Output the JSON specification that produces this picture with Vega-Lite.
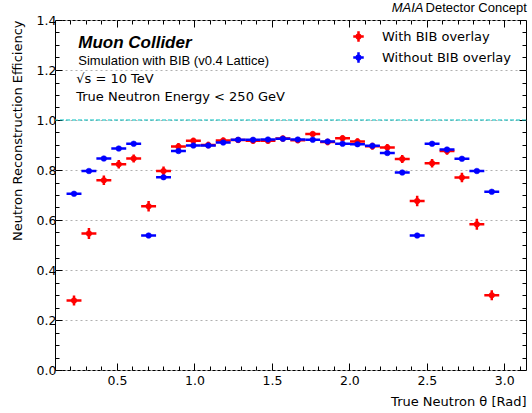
{
  "$schema": "https://vega.github.io/schema/vega-lite/v6.json",
  "width": 471,
  "height": 350,
  "autosize": {"type": "none"},
  "padding": {"left": 55, "top": 20, "right": 6, "bottom": 43},
  "background": "white",
  "config": {
    "view": {"stroke": "black", "strokeWidth": 1},
    "font": "DejaVu Sans",
    "axis": {"labelFont": "DejaVu Sans", "titleFont": "DejaVu Sans", "labelColor": "black", "titleColor": "black", "tickColor": "black", "domain": false}
  },
  "datasets": {
    "eff": [
      {"s":"With BIB overlay","t":0.2227,"tlo":0.1745,"thi":0.2708,"e":0.278,"elo":0.258,"ehi":0.298},
      {"s":"With BIB overlay","t":0.3190,"tlo":0.2708,"thi":0.3671,"e":0.546,"elo":0.524,"ehi":0.568},
      {"s":"With BIB overlay","t":0.4153,"tlo":0.3671,"thi":0.4634,"e":0.759,"elo":0.740,"ehi":0.778},
      {"s":"With BIB overlay","t":0.5116,"tlo":0.4634,"thi":0.5597,"e":0.823,"elo":0.806,"ehi":0.840},
      {"s":"With BIB overlay","t":0.6079,"tlo":0.5597,"thi":0.6560,"e":0.846,"elo":0.830,"ehi":0.862},
      {"s":"With BIB overlay","t":0.7042,"tlo":0.6560,"thi":0.7523,"e":0.655,"elo":0.634,"ehi":0.676},
      {"s":"With BIB overlay","t":0.8005,"tlo":0.7523,"thi":0.8486,"e":0.796,"elo":0.778,"ehi":0.814},
      {"s":"With BIB overlay","t":0.8968,"tlo":0.8486,"thi":0.9449,"e":0.894,"elo":0.880,"ehi":0.908},
      {"s":"With BIB overlay","t":0.9931,"tlo":0.9449,"thi":1.0412,"e":0.917,"elo":0.905,"ehi":0.929},
      {"s":"With BIB overlay","t":1.0894,"tlo":1.0412,"thi":1.1375,"e":0.900,"elo":0.887,"ehi":0.913},
      {"s":"With BIB overlay","t":1.1857,"tlo":1.1375,"thi":1.2338,"e":0.918,"elo":0.906,"ehi":0.930},
      {"s":"With BIB overlay","t":1.2820,"tlo":1.2338,"thi":1.3301,"e":0.920,"elo":0.908,"ehi":0.932},
      {"s":"With BIB overlay","t":1.3783,"tlo":1.3301,"thi":1.4264,"e":0.917,"elo":0.905,"ehi":0.929},
      {"s":"With BIB overlay","t":1.4746,"tlo":1.4264,"thi":1.5227,"e":0.917,"elo":0.905,"ehi":0.929},
      {"s":"With BIB overlay","t":1.5709,"tlo":1.5227,"thi":1.6190,"e":0.926,"elo":0.914,"ehi":0.938},
      {"s":"With BIB overlay","t":1.6672,"tlo":1.6190,"thi":1.7153,"e":0.919,"elo":0.907,"ehi":0.931},
      {"s":"With BIB overlay","t":1.7635,"tlo":1.7153,"thi":1.8116,"e":0.944,"elo":0.934,"ehi":0.954},
      {"s":"With BIB overlay","t":1.8598,"tlo":1.8116,"thi":1.9079,"e":0.912,"elo":0.899,"ehi":0.925},
      {"s":"With BIB overlay","t":1.9561,"tlo":1.9079,"thi":2.0042,"e":0.927,"elo":0.915,"ehi":0.939},
      {"s":"With BIB overlay","t":2.0524,"tlo":2.0042,"thi":2.1005,"e":0.914,"elo":0.901,"ehi":0.927},
      {"s":"With BIB overlay","t":2.1487,"tlo":2.1005,"thi":2.1968,"e":0.895,"elo":0.881,"ehi":0.909},
      {"s":"With BIB overlay","t":2.2450,"tlo":2.1968,"thi":2.2931,"e":0.890,"elo":0.876,"ehi":0.904},
      {"s":"With BIB overlay","t":2.3413,"tlo":2.2931,"thi":2.3894,"e":0.844,"elo":0.828,"ehi":0.860},
      {"s":"With BIB overlay","t":2.4376,"tlo":2.3894,"thi":2.4857,"e":0.676,"elo":0.655,"ehi":0.697},
      {"s":"With BIB overlay","t":2.5339,"tlo":2.4857,"thi":2.5820,"e":0.827,"elo":0.810,"ehi":0.844},
      {"s":"With BIB overlay","t":2.6302,"tlo":2.5820,"thi":2.6783,"e":0.876,"elo":0.861,"ehi":0.891},
      {"s":"With BIB overlay","t":2.7265,"tlo":2.6783,"thi":2.7746,"e":0.770,"elo":0.751,"ehi":0.789},
      {"s":"With BIB overlay","t":2.8228,"tlo":2.7746,"thi":2.8709,"e":0.583,"elo":0.561,"ehi":0.605},
      {"s":"With BIB overlay","t":2.9191,"tlo":2.8709,"thi":2.9672,"e":0.299,"elo":0.279,"ehi":0.319},
      {"s":"Without BIB overlay","t":0.2227,"tlo":0.1745,"thi":0.2708,"e":0.705,"elo":0.698,"ehi":0.712},
      {"s":"Without BIB overlay","t":0.3190,"tlo":0.2708,"thi":0.3671,"e":0.796,"elo":0.790,"ehi":0.802},
      {"s":"Without BIB overlay","t":0.4153,"tlo":0.3671,"thi":0.4634,"e":0.846,"elo":0.840,"ehi":0.852},
      {"s":"Without BIB overlay","t":0.5116,"tlo":0.4634,"thi":0.5597,"e":0.886,"elo":0.881,"ehi":0.891},
      {"s":"Without BIB overlay","t":0.6079,"tlo":0.5597,"thi":0.6560,"e":0.905,"elo":0.900,"ehi":0.910},
      {"s":"Without BIB overlay","t":0.7042,"tlo":0.6560,"thi":0.7523,"e":0.538,"elo":0.530,"ehi":0.546},
      {"s":"Without BIB overlay","t":0.8005,"tlo":0.7523,"thi":0.8486,"e":0.771,"elo":0.764,"ehi":0.778},
      {"s":"Without BIB overlay","t":0.8968,"tlo":0.8486,"thi":0.9449,"e":0.876,"elo":0.871,"ehi":0.881},
      {"s":"Without BIB overlay","t":0.9931,"tlo":0.9449,"thi":1.0412,"e":0.898,"elo":0.893,"ehi":0.903},
      {"s":"Without BIB overlay","t":1.0894,"tlo":1.0412,"thi":1.1375,"e":0.898,"elo":0.893,"ehi":0.903},
      {"s":"Without BIB overlay","t":1.1857,"tlo":1.1375,"thi":1.2338,"e":0.910,"elo":0.905,"ehi":0.915},
      {"s":"Without BIB overlay","t":1.2820,"tlo":1.2338,"thi":1.3301,"e":0.921,"elo":0.917,"ehi":0.925},
      {"s":"Without BIB overlay","t":1.3783,"tlo":1.3301,"thi":1.4264,"e":0.921,"elo":0.917,"ehi":0.925},
      {"s":"Without BIB overlay","t":1.4746,"tlo":1.4264,"thi":1.5227,"e":0.922,"elo":0.918,"ehi":0.926},
      {"s":"Without BIB overlay","t":1.5709,"tlo":1.5227,"thi":1.6190,"e":0.925,"elo":0.921,"ehi":0.929},
      {"s":"Without BIB overlay","t":1.6672,"tlo":1.6190,"thi":1.7153,"e":0.922,"elo":0.918,"ehi":0.926},
      {"s":"Without BIB overlay","t":1.7635,"tlo":1.7153,"thi":1.8116,"e":0.921,"elo":0.917,"ehi":0.925},
      {"s":"Without BIB overlay","t":1.8598,"tlo":1.8116,"thi":1.9079,"e":0.914,"elo":0.909,"ehi":0.919},
      {"s":"Without BIB overlay","t":1.9561,"tlo":1.9079,"thi":2.0042,"e":0.905,"elo":0.900,"ehi":0.910},
      {"s":"Without BIB overlay","t":2.0524,"tlo":2.0042,"thi":2.1005,"e":0.903,"elo":0.898,"ehi":0.908},
      {"s":"Without BIB overlay","t":2.1487,"tlo":2.1005,"thi":2.1968,"e":0.897,"elo":0.892,"ehi":0.902},
      {"s":"Without BIB overlay","t":2.2450,"tlo":2.1968,"thi":2.2931,"e":0.868,"elo":0.863,"ehi":0.873},
      {"s":"Without BIB overlay","t":2.3413,"tlo":2.2931,"thi":2.3894,"e":0.790,"elo":0.784,"ehi":0.796},
      {"s":"Without BIB overlay","t":2.4376,"tlo":2.3894,"thi":2.4857,"e":0.538,"elo":0.530,"ehi":0.546},
      {"s":"Without BIB overlay","t":2.5339,"tlo":2.4857,"thi":2.5820,"e":0.905,"elo":0.900,"ehi":0.910},
      {"s":"Without BIB overlay","t":2.6302,"tlo":2.5820,"thi":2.6783,"e":0.882,"elo":0.877,"ehi":0.887},
      {"s":"Without BIB overlay","t":2.7265,"tlo":2.6783,"thi":2.7746,"e":0.845,"elo":0.839,"ehi":0.851},
      {"s":"Without BIB overlay","t":2.8228,"tlo":2.7746,"thi":2.8709,"e":0.796,"elo":0.790,"ehi":0.802},
      {"s":"Without BIB overlay","t":2.9191,"tlo":2.8709,"thi":2.9672,"e":0.713,"elo":0.706,"ehi":0.720}
    ]
  },
  "data": {"name": "eff"},
  "resolve": {"axis": {"x": "independent", "y": "independent"}},
  "layer": [
    {
      "data": {"values": [{}]},
      "mark": {"type": "rule", "color": "#00bfbf", "strokeWidth": 1, "strokeDash": [4, 2]},
      "encoding": {
        "y": {"datum": 1.0, "type": "quantitative", "scale": {"domain": [0, 1.4], "nice": false, "zero": false}, "axis": null}
      }
    },
    {
      "transform": [{"filter": "datum.s === 'With BIB overlay'"}],
      "mark": {"type": "rule", "color": "#ff0000", "strokeWidth": 2.5},
      "encoding": {
        "x": {"field": "tlo", "type": "quantitative", "scale": {"domain": [0.1, 3.14], "nice": false, "zero": false},
          "axis": {"orient": "bottom", "values": [0.5, 1.0, 1.5, 2.0, 2.5, 3.0], "format": ".1f", "tickSize": -7, "tickWidth": 1,
            "labelFontSize": 12.5, "labelPadding": 11, "labelFlush": false, "labelOverlap": false,
            "title": "True Neutron θ [Rad]", "titleAnchor": "end", "titleFontSize": 13, "titleFontWeight": "normal", "titlePadding": 9, "grid": false}},
        "x2": {"field": "thi"},
        "y": {"field": "e", "type": "quantitative", "scale": {"domain": [0, 1.4], "nice": false, "zero": false},
          "axis": {"orient": "left", "values": [0, 0.2, 0.4, 0.6, 0.8, 1.0, 1.2, 1.4], "format": ".1f", "tickSize": -7, "tickWidth": 1,
            "labelFontSize": 12.5, "labelPadding": 6, "labelFlush": false, "labelOverlap": false,
            "title": "Neutron Reconstruction Efficiency", "titleAnchor": "end", "titleFontSize": 13, "titleFontWeight": "normal", "titlePadding": 12,
            "grid": true, "gridColor": "#b0b0b0", "gridDash": [2, 3], "gridWidth": 1}}
      }
    },
    {
      "transform": [{"filter": "datum.s === 'With BIB overlay'"}],
      "mark": {"type": "rule", "color": "#ff0000", "strokeWidth": 2.5},
      "encoding": {
        "x": {"field": "t", "type": "quantitative", "scale": {"domain": [0.1, 3.14], "nice": false, "zero": false},
          "axis": {"orient": "top", "values": [0.5, 1.0, 1.5, 2.0, 2.5, 3.0], "tickSize": -7, "tickWidth": 1, "labels": false, "title": null, "grid": false}},
        "y": {"field": "elo", "type": "quantitative", "scale": {"domain": [0, 1.4], "nice": false, "zero": false},
          "axis": {"orient": "right", "values": [0, 0.2, 0.4, 0.6, 0.8, 1.0, 1.2, 1.4], "tickSize": -7, "tickWidth": 1, "labels": false, "title": null, "grid": false}},
        "y2": {"field": "ehi"}
      }
    },
    {
      "transform": [{"filter": "datum.s === 'With BIB overlay'"}],
      "mark": {"type": "point", "shape": "circle", "size": 32, "opacity": 1, "filled": true, "strokeWidth": 0.5},
      "encoding": {
        "x": {"field": "t", "type": "quantitative", "scale": {"domain": [0.1, 3.14], "nice": false, "zero": false}, "axis": null},
        "y": {"field": "e", "type": "quantitative", "scale": {"domain": [0, 1.4], "nice": false, "zero": false}, "axis": null},
        "fill": {"field": "s", "type": "nominal",
          "scale": {"domain": ["With BIB overlay", "Without BIB overlay"], "range": ["#ff0000", "#0000ff"]},
          "legend": {"orient": "none", "legendX": 297, "legendY": 10, "direction": "vertical", "title": null, "padding": 0,
            "symbolType": "M-1,0H1M0,-1V1M0.35,0A0.35,0.35,0,1,1,-0.35,0A0.35,0.35,0,1,1,0.35,0Z",
            "symbolSize": 110, "symbolStrokeWidth": 2.5, "labelFont": "DejaVu Sans", "labelFontSize": 13, "labelColor": "black",
            "labelOffset": 17, "rowPadding": 0}},
        "stroke": {"field": "s", "type": "nominal",
          "scale": {"domain": ["With BIB overlay", "Without BIB overlay"], "range": ["#ff0000", "#0000ff"]},
          "legend": {"orient": "none", "legendX": 297, "legendY": 10, "direction": "vertical", "title": null, "padding": 0,
            "symbolType": "M-1,0H1M0,-1V1M0.35,0A0.35,0.35,0,1,1,-0.35,0A0.35,0.35,0,1,1,0.35,0Z",
            "symbolSize": 110, "symbolStrokeWidth": 2.5, "labelFont": "DejaVu Sans", "labelFontSize": 13, "labelColor": "black",
            "labelOffset": 17, "rowPadding": 0}}
      }
    },
    {
      "transform": [{"filter": "datum.s === 'Without BIB overlay'"}],
      "mark": {"type": "rule", "color": "#0000ff", "strokeWidth": 2.5},
      "encoding": {
        "x": {"field": "tlo", "type": "quantitative", "scale": {"domain": [0.1, 3.14], "nice": false, "zero": false},
          "axis": {"orient": "bottom", "values": [0.2,0.3,0.4,0.6,0.7,0.8,0.9,1.1,1.2,1.3,1.4,1.6,1.7,1.8,1.9,2.1,2.2,2.3,2.4,2.6,2.7,2.8,2.9,3.1], "tickSize": -4, "tickWidth": 1, "labels": false, "title": null, "grid": false}},
        "x2": {"field": "thi"},
        "y": {"field": "e", "type": "quantitative", "scale": {"domain": [0, 1.4], "nice": false, "zero": false},
          "axis": {"orient": "left", "values": [0.05,0.1,0.15,0.25,0.3,0.35,0.45,0.5,0.55,0.65,0.7,0.75,0.85,0.9,0.95,1.05,1.1,1.15,1.25,1.3,1.35], "tickSize": -4, "tickWidth": 1, "labels": false, "title": null, "grid": false}}
      }
    },
    {
      "transform": [{"filter": "datum.s === 'Without BIB overlay'"}],
      "mark": {"type": "rule", "color": "#0000ff", "strokeWidth": 2.5},
      "encoding": {
        "x": {"field": "t", "type": "quantitative", "scale": {"domain": [0.1, 3.14], "nice": false, "zero": false},
          "axis": {"orient": "top", "values": [0.2,0.3,0.4,0.6,0.7,0.8,0.9,1.1,1.2,1.3,1.4,1.6,1.7,1.8,1.9,2.1,2.2,2.3,2.4,2.6,2.7,2.8,2.9,3.1], "tickSize": -4, "tickWidth": 1, "labels": false, "title": null, "grid": false}},
        "y": {"field": "elo", "type": "quantitative", "scale": {"domain": [0, 1.4], "nice": false, "zero": false},
          "axis": {"orient": "right", "values": [0.05,0.1,0.15,0.25,0.3,0.35,0.45,0.5,0.55,0.65,0.7,0.75,0.85,0.9,0.95,1.05,1.1,1.15,1.25,1.3,1.35], "tickSize": -4, "tickWidth": 1, "labels": false, "title": null, "grid": false}},
        "y2": {"field": "ehi"}
      }
    },
    {
      "transform": [{"filter": "datum.s === 'Without BIB overlay'"}],
      "mark": {"type": "point", "shape": "circle", "size": 32, "opacity": 1, "filled": true, "strokeWidth": 0.5},
      "encoding": {
        "x": {"field": "t", "type": "quantitative", "scale": {"domain": [0.1, 3.14], "nice": false, "zero": false}, "axis": null},
        "y": {"field": "e", "type": "quantitative", "scale": {"domain": [0, 1.4], "nice": false, "zero": false}, "axis": null},
        "fill": {"field": "s", "type": "nominal",
          "scale": {"domain": ["With BIB overlay", "Without BIB overlay"], "range": ["#ff0000", "#0000ff"]},
          "legend": {"orient": "none", "legendX": 297, "legendY": 10, "direction": "vertical", "title": null, "padding": 0,
            "symbolType": "M-1,0H1M0,-1V1M0.35,0A0.35,0.35,0,1,1,-0.35,0A0.35,0.35,0,1,1,0.35,0Z",
            "symbolSize": 110, "symbolStrokeWidth": 2.5, "labelFont": "DejaVu Sans", "labelFontSize": 13, "labelColor": "black",
            "labelOffset": 17, "rowPadding": 0}},
        "stroke": {"field": "s", "type": "nominal",
          "scale": {"domain": ["With BIB overlay", "Without BIB overlay"], "range": ["#ff0000", "#0000ff"]},
          "legend": {"orient": "none", "legendX": 297, "legendY": 10, "direction": "vertical", "title": null, "padding": 0,
            "symbolType": "M-1,0H1M0,-1V1M0.35,0A0.35,0.35,0,1,1,-0.35,0A0.35,0.35,0,1,1,0.35,0Z",
            "symbolSize": 110, "symbolStrokeWidth": 2.5, "labelFont": "DejaVu Sans", "labelFontSize": 13, "labelColor": "black",
            "labelOffset": 17, "rowPadding": 0}}
      }
    },
    {
      "data": {"values": [{}]},
      "mark": {"type": "text", "text": "Muon Collider", "font": "Liberation Sans", "fontSize": 17, "fontWeight": "bold", "fontStyle": "italic", "align": "left", "baseline": "middle", "color": "black"},
      "encoding": {
        "x": {"datum": 0.25, "type": "quantitative", "scale": {"domain": [0.1, 3.14], "nice": false, "zero": false}, "axis": null},
        "y": {"datum": 1.307, "type": "quantitative", "scale": {"domain": [0, 1.4], "nice": false, "zero": false}, "axis": null}
      }
    },
    {
      "data": {"values": [{}]},
      "mark": {"type": "text", "text": "Simulation with BIB (v0.4 Lattice)", "font": "Liberation Sans", "fontSize": 13, "align": "left", "baseline": "middle", "color": "black"},
      "encoding": {
        "x": {"datum": 0.25, "type": "quantitative", "scale": {"domain": [0.1, 3.14], "nice": false, "zero": false}, "axis": null},
        "y": {"datum": 1.236, "type": "quantitative", "scale": {"domain": [0, 1.4], "nice": false, "zero": false}, "axis": null}
      }
    },
    {
      "data": {"values": [{}]},
      "mark": {"type": "text", "text": "√s = 10 TeV", "font": "DejaVu Sans", "fontSize": 13, "align": "left", "baseline": "middle", "color": "black"},
      "encoding": {
        "x": {"datum": 0.237, "type": "quantitative", "scale": {"domain": [0.1, 3.14], "nice": false, "zero": false}, "axis": null},
        "y": {"datum": 1.164, "type": "quantitative", "scale": {"domain": [0, 1.4], "nice": false, "zero": false}, "axis": null}
      }
    },
    {
      "data": {"values": [{}]},
      "mark": {"type": "text", "text": "True Neutron Energy < 250 GeV", "font": "DejaVu Sans", "fontSize": 13, "align": "left", "baseline": "middle", "color": "black"},
      "encoding": {
        "x": {"datum": 0.237, "type": "quantitative", "scale": {"domain": [0.1, 3.14], "nice": false, "zero": false}, "axis": null},
        "y": {"datum": 1.093, "type": "quantitative", "scale": {"domain": [0, 1.4], "nice": false, "zero": false}, "axis": null}
      }
    },
    {
      "data": {"values": [{}]},
      "mark": {"type": "text", "text": "MAIA", "font": "Liberation Sans", "fontSize": 13, "fontStyle": "italic", "align": "right", "baseline": "middle", "color": "black"},
      "encoding": {
        "x": {"datum": 2.478, "type": "quantitative", "scale": {"domain": [0.1, 3.14], "nice": false, "zero": false}, "axis": null},
        "y": {"datum": 1.448, "type": "quantitative", "scale": {"domain": [0, 1.4], "nice": false, "zero": false}, "axis": null}
      }
    },
    {
      "data": {"values": [{}]},
      "mark": {"type": "text", "text": "Detector Concept", "font": "Liberation Sans", "fontSize": 13, "align": "right", "baseline": "middle", "color": "black"},
      "encoding": {
        "x": {"datum": 3.145, "type": "quantitative", "scale": {"domain": [0.1, 3.14], "nice": false, "zero": false}, "axis": null},
        "y": {"datum": 1.448, "type": "quantitative", "scale": {"domain": [0, 1.4], "nice": false, "zero": false}, "axis": null}
      }
    }
  ]
}
